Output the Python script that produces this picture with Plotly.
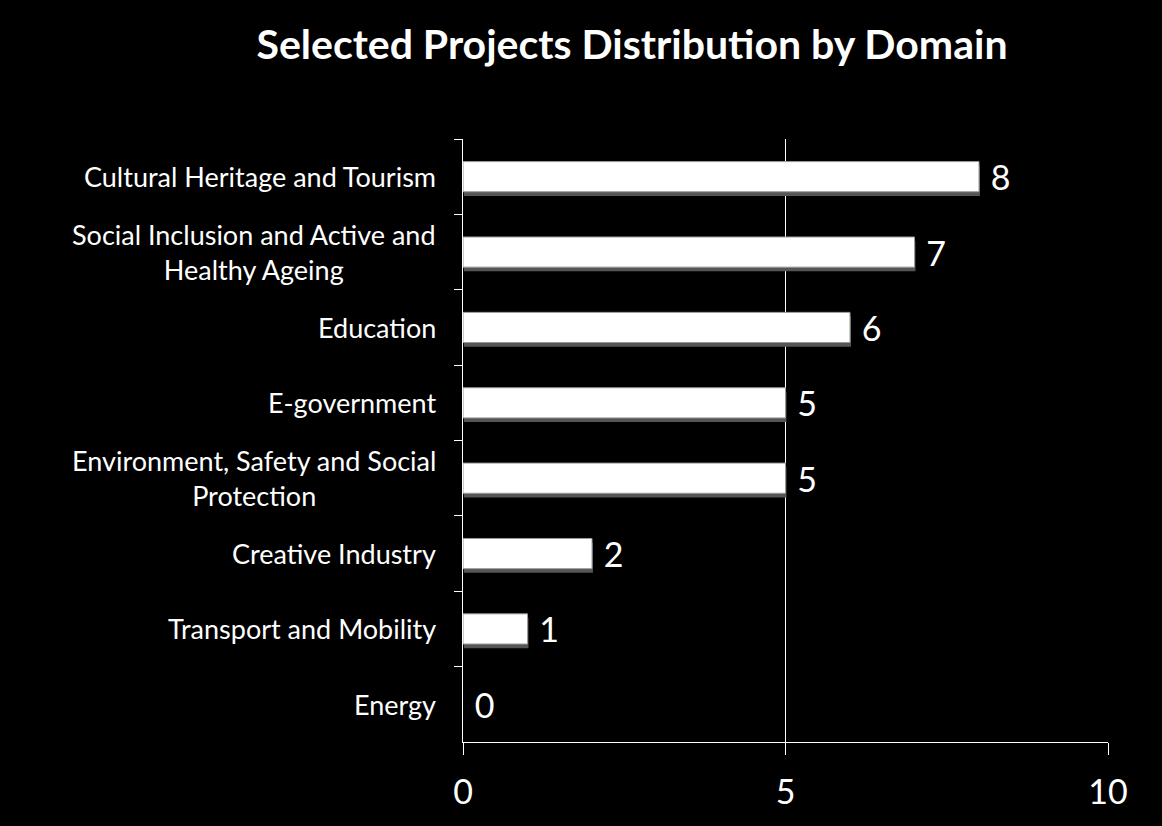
import plotly.graph_objects as go

categories = [
    "Cultural Heritage and Tourism",
    "Social Inclusion and Active and<br>Healthy Ageing",
    "Education",
    "E-government",
    "Environment, Safety and Social<br>Protection",
    "Creative Industry",
    "Transport and Mobility",
    "Energy",
]
values = [8, 7, 6, 5, 5, 2, 1, 0]
x_ticks = [0, 5, 10]

FONT = "Lato, 'Open Sans', sans-serif"
W, H = 1162, 826
L, R, T, B = 463, 54, 139, 84
plot_w = W - L - R

edge_w = [1 if v > 0 else 0 for v in values]

fig = go.Figure()
# soft shadow behind bars
fig.add_trace(go.Bar(
    y=categories, x=values, orientation="h", base=0.015,
    marker=dict(color="rgba(85,85,85,1)", line=dict(width=0)),
    width=0.4, offset=-0.2 + 0.055, hoverinfo="skip",
))
fig.add_trace(go.Bar(
    y=categories, x=values, orientation="h",
    marker=dict(color="white", line=dict(color="#9a9a9a", width=edge_w)),
    width=0.4, offset=-0.2,
    text=["\u00a0" + str(v) for v in values],
    textposition="outside", constraintext="none",
    textfont=dict(color="white", size=34, family=FONT),
    cliponaxis=False,
))

annotations = []
for c in categories:
    annotations.append(dict(
        x=(438 - L) / plot_w, xref="paper",
        y=c, yref="y",
        text=c, showarrow=False, align="center",
        xanchor="right", yanchor="middle",
        font=dict(color="white", size=27, family=FONT),
    ))

fig.update_layout(
    width=W, height=H,
    paper_bgcolor="black", plot_bgcolor="black",
    margin=dict(l=L, r=R, t=T, b=B),
    showlegend=False,
    barmode="overlay",
    title=dict(text="<b>Selected Projects Distribution by Domain</b>",
               x=632 / W, xanchor="center", y=1 - 45 / H, yanchor="middle",
               font=dict(color="white", size=41, family=FONT)),
    annotations=annotations,
)
fig.update_xaxes(
    range=[0, 10], tickvals=x_ticks, ticktext=[str(t) for t in x_ticks],
    showgrid=True, gridcolor="white", gridwidth=1,
    showline=True, linecolor="white", linewidth=1,
    ticks="outside", ticklen=12, tickcolor="white",
    tickfont=dict(color="white", size=34, family=FONT),
    ticklabelstandoff=8,
    zeroline=False, fixedrange=True,
)
fig.update_yaxes(
    type="category", autorange="reversed",
    showticklabels=False,
    showline=True, linecolor="white", linewidth=1,
    ticks="outside", ticklen=8, tickcolor="white", tickson="boundaries",
    showgrid=False, zeroline=False,
)

fig.write_html("out.html", config={"displayModeBar": False},
               post_script="document.body.style.margin='0';document.body.style.background='black';")
